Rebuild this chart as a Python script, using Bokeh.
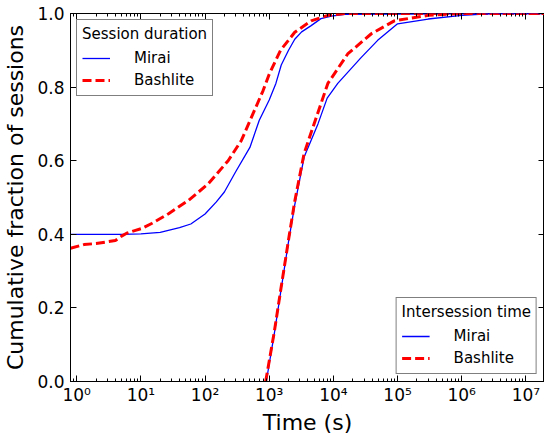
from bokeh.plotting import figure
from bokeh.models import (Range1d, Legend, LegendItem, LogAxis, LinearAxis, LogTicker,
                          FixedTicker, PrintfTickFormatter, CustomJSTickFormatter)
from bokeh.embed import file_html
from bokeh.resources import INLINE

# Session duration (s) CDFs
sess_mirai_t = [0.8, 2, 5, 10, 20, 40, 60, 100, 150, 200, 300, 500, 700, 1000, 1270, 1540,
                2000, 2500, 3200, 4500, 6400, 9300, 15000, 2e7]
sess_mirai_f = [0.400, 0.400, 0.400, 0.401, 0.405, 0.418, 0.428, 0.455, 0.488, 0.515, 0.570,
                0.636, 0.710, 0.765, 0.810, 0.860, 0.900, 0.930, 0.950, 0.967, 0.986, 0.993,
                0.998, 1.0]
sess_bash_t = [0.8, 1.3, 2, 4, 5, 6, 8, 10, 15, 27, 55, 112, 229, 368, 600, 800, 1000, 1500,
               2500, 4500, 8200, 15000, 2e7]
sess_bash_f = [0.362, 0.372, 0.375, 0.383, 0.395, 0.403, 0.410, 0.415, 0.430, 0.456, 0.492,
               0.537, 0.600, 0.655, 0.740, 0.790, 0.835, 0.900, 0.949, 0.980, 0.995, 1.0, 1.0]

# Intersession time (s) CDFs
inter_mirai_t = [900, 1200, 1500, 2000, 2500, 3500, 5750, 8000, 11700, 27000, 49000, 100000,
                 300000, 1e6, 3e6, 2e7]
inter_mirai_f = [0.0, 0.13, 0.24, 0.38, 0.48, 0.61, 0.70, 0.77, 0.81, 0.88, 0.927, 0.972,
                 0.985, 0.995, 1.0, 1.0]
inter_bash_t = [880, 1200, 1500, 2000, 2500, 3500, 5000, 8200, 16700, 39000, 89000, 300000,
                1e6, 2e7]
inter_bash_f = [0.0, 0.135, 0.245, 0.385, 0.49, 0.62, 0.70, 0.81, 0.89, 0.945, 0.98, 0.995,
                1.0, 1.0]

y_ticks = [0.0, 0.2, 0.4, 0.6, 0.8, 1.0]

FONT = "DejaVu Sans"
BLUE = "#0000ff"
RED = "#ff0000"

p = figure(x_axis_type="log", frame_width=474, frame_height=368,
           x_range=Range1d(0.8, 1.95e7), y_range=Range1d(0, 1),
           output_backend="svg", toolbar_location=None,
           min_border_left=69, min_border_right=0, min_border_top=13, min_border_bottom=0)
p.background_fill_color = "white"
p.border_fill_color = "white"
p.grid.visible = False
p.outline_line_color = "black"
p.outline_line_width = 1

sup_js = """
const sup = {"0":"\\u2070","1":"\\u00b9","2":"\\u00b2","3":"\\u00b3","4":"\\u2074","5":"\\u2075",
             "6":"\\u2076","7":"\\u2077","8":"\\u2078","9":"\\u2079","-":"\\u207b"};
const e = Math.round(Math.log10(tick));
return "10" + String(e).split("").map(c => sup[c]).join("");
"""

xa = p.xaxis[0]
xa.ticker = LogTicker(num_minor_ticks=10)
xa.formatter = CustomJSTickFormatter(code=sup_js)
xa.axis_label = "Time (s)"
ya = p.yaxis[0]
ya.ticker = FixedTicker(ticks=y_ticks)
ya.formatter = PrintfTickFormatter(format="%.1f")
ya.axis_label = "Cumulative fraction of sessions"

for ax in (xa, ya):
    ax.axis_label_text_font = FONT
    ax.axis_label_text_font_size = "22px"
    ax.axis_label_text_font_style = "normal"
    ax.axis_label_text_color = "black"
    ax.major_label_text_font = FONT
    ax.major_label_text_font_size = "17px"
    ax.major_label_text_color = "black"
    ax.major_tick_in = 6
    ax.major_tick_out = 0
    ax.minor_tick_in = 3
    ax.minor_tick_out = 0
    ax.axis_line_color = "black"
    ax.major_tick_line_color = "black"
    ax.major_label_standoff = 6
    ax.axis_label_standoff = 6
xa.minor_tick_line_color = "black"
ya.minor_tick_line_color = None
xa.major_label_standoff = 3
xa.axis_label_standoff = 2

top = LogAxis(ticker=LogTicker(num_minor_ticks=10), major_label_text_font_size="1px",
              major_label_text_color=None,
              major_tick_in=6, major_tick_out=0, minor_tick_in=3, minor_tick_out=0,
              major_label_standoff=0, axis_line_color=None)
right = LinearAxis(ticker=FixedTicker(ticks=y_ticks), major_label_text_font_size="1px",
                   major_label_text_color=None,
                   major_tick_in=6, major_tick_out=0, minor_tick_line_color=None,
                   major_label_standoff=0, axis_line_color=None)
p.add_layout(top, "above")
p.add_layout(right, "right")

r_sm = p.line(sess_mirai_t, sess_mirai_f, line_color=BLUE, line_width=1.3)
r_sb = p.line(sess_bash_t, sess_bash_f, line_color=RED, line_width=3, line_dash="9 4")
r_im = p.line(inter_mirai_t, inter_mirai_f, line_color=BLUE, line_width=1.3)
r_ib = p.line(inter_bash_t, inter_bash_f, line_color=RED, line_width=3, line_dash="9 4")


def make_legend(title, items, loc, margin):
    lg = Legend(items=items, title=title, location=loc, margin=margin)
    lg.title_text_font = FONT
    lg.title_text_font_size = "15px"
    lg.title_text_font_style = "normal"
    lg.title_text_color = "black"
    lg.title_standoff = 5
    lg.label_text_font = FONT
    lg.label_text_font_size = "15px"
    lg.label_text_color = "black"
    lg.glyph_width = 28
    lg.glyph_height = 20
    lg.label_height = 20
    lg.label_standoff = 24
    lg.spacing = 2
    lg.padding = 5
    lg.border_line_color = "black"
    lg.border_line_width = 1
    lg.background_fill_alpha = 1
    return lg


leg1 = make_legend("Session duration",
                   [LegendItem(label="Mirai", renderers=[r_sm]),
                    LegendItem(label="Bashlite", renderers=[r_sb])],
                   "top_left", 6)
leg2 = make_legend("Intersession time",
                   [LegendItem(label="Mirai", renderers=[r_im]),
                    LegendItem(label="Bashlite", renderers=[r_ib])],
                   "bottom_right", 7)
p.add_layout(leg1)
p.add_layout(leg2)

open("out.html", "w").write(file_html(p, INLINE))
